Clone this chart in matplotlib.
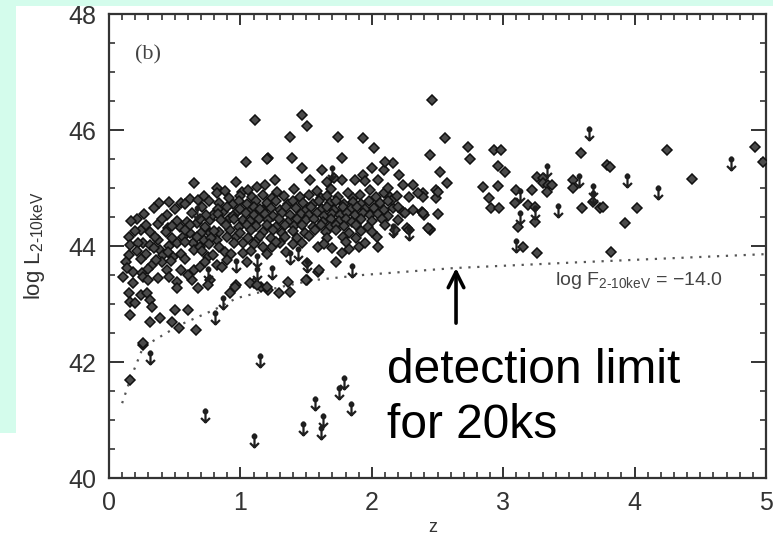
import matplotlib
matplotlib.use("Agg")
import matplotlib.pyplot as plt
from matplotlib.path import Path
from matplotlib.patches import Rectangle
import numpy as np

# ---------------- data ----------------
# detected sources (z, log L)
det_sparse = [
    (1.11, 46.17), (1.38, 45.88), (1.47, 46.26), (1.51, 46.07), (1.74, 45.88), (1.93, 45.86),
    (2.02, 45.69), (2.46, 46.52), (2.56, 45.86), (2.73, 45.71), (2.44, 45.57), (2.75, 45.50),
    (2.52, 45.28), (2.57, 45.09), (2.39, 44.91), (2.49, 44.96), (2.49, 44.83), (2.40, 44.53),
    (2.50, 44.56), (2.44, 44.28), (2.93, 45.66), (2.98, 45.66), (2.96, 45.38), (3.01, 45.28),
    (2.85, 45.02), (2.89, 44.83), (2.96, 45.03), (2.91, 44.66), (2.97, 44.66), (3.10, 44.96),
    (3.09, 44.74), (3.22, 44.96), (3.19, 44.71), (3.24, 44.67), (3.24, 44.41), (3.11, 44.33),
    (3.15, 43.98), (3.26, 43.88), (3.26, 45.19), (3.30, 45.17), (3.30, 45.09), (3.34, 45.05),
    (3.33, 44.93), (3.37, 45.05), (3.59, 45.60), (3.53, 45.14), (3.53, 45.00), (3.60, 44.66),
    (3.68, 44.76), (3.74, 44.66), (3.76, 44.67), (3.79, 45.40), (3.81, 45.36), (3.82, 43.90),
    (3.93, 44.40), (4.02, 44.66), (4.25, 45.66), (4.44, 45.16), (4.92, 45.71), (4.98, 45.45),
    (2.16, 45.43), (2.09, 45.31), (2.21, 45.22), (2.24, 45.05), (2.31, 45.05), (2.09, 44.91),
    (2.14, 44.84), (2.28, 44.84), (2.39, 44.84), (2.50, 44.93), (2.16, 44.66), (2.24, 44.59),
    (2.31, 44.62), (2.27, 44.31), (2.44, 44.29), (2.10, 45.45), (2.00, 45.34), (1.93, 45.22),
    (2.05, 45.14), (1.87, 45.14), (1.95, 45.12), (2.35, 44.91), (2.15, 44.79), (2.25, 44.57),
    (2.38, 44.59), (2.18, 44.28), (2.28, 44.28), (2.04, 44.16), (2.05, 43.98), (1.90, 43.98),
    (1.95, 44.05), (2.43, 44.31), (2.39, 44.57),
    (1.21, 45.52), (1.39, 45.52), (1.77, 45.52), (1.47, 45.34), (1.62, 45.31), (1.77, 45.14),
    (1.71, 45.17), (1.53, 45.14), (1.66, 45.10), (1.26, 45.14),
    (1.70, 43.97), (1.77, 43.88), (1.73, 43.72), (1.83, 43.95), (1.59, 43.98), (1.51, 43.71),
    (1.59, 43.55), (1.30, 44.05), (1.24, 43.98), (1.51, 43.41), (1.36, 43.38), (1.38, 43.21),
    (1.29, 43.19), (1.21, 43.24), (1.50, 43.41), (1.10, 43.36), (1.16, 43.30), (0.97, 43.33),
    (1.60, 43.59), (1.07, 43.36), (1.13, 43.33), (1.20, 43.29), (0.92, 43.19), (0.96, 43.29),
    (1.04, 45.45), (1.20, 45.50), (0.65, 45.09), (0.82, 45.00), (0.82, 44.91), (0.97, 45.10),
    (1.01, 44.93), (1.13, 45.02), (1.19, 45.05), (0.38, 44.74), (0.55, 44.74), (0.62, 44.81),
    (0.68, 44.79), (0.94, 44.72), (0.21, 44.47), (0.24, 44.28), (0.31, 44.24), (0.37, 44.38),
    (0.45, 44.31), (0.54, 44.33), (0.59, 44.41), (0.67, 44.40), (0.77, 44.45), (0.79, 44.53),
    (0.87, 44.59), (0.92, 44.48), (0.97, 44.57), (1.02, 44.45), (1.07, 44.62), (1.13, 44.53),
    (1.17, 44.62), (0.15, 44.16), (0.16, 44.02), (0.15, 43.84), (0.26, 44.05), (0.31, 44.02),
    (0.37, 44.10), (0.39, 43.93), (0.41, 43.84), (0.46, 44.00), (0.52, 44.05), (0.49, 43.81),
    (0.56, 44.16), (0.62, 44.22), (0.64, 44.05), (0.65, 43.93), (0.69, 43.98), (0.72, 44.10),
    (0.77, 44.22), (0.82, 44.10), (0.84, 43.98), (0.88, 43.90), (0.75, 43.81), (0.79, 43.84),
    (0.84, 44.24), (0.92, 44.28), (0.97, 44.16), (1.02, 44.05), (1.13, 44.10), (1.17, 43.98),
    (1.02, 43.88), (0.11, 43.47), (0.18, 43.55), (0.18, 43.36), (0.25, 43.53), (0.26, 43.47),
    (0.30, 43.41), (0.33, 43.67), (0.40, 43.72), (0.44, 43.59), (0.46, 43.47), (0.52, 43.38),
    (0.52, 43.28), (0.63, 43.41), (0.65, 43.59), (0.69, 43.64), (0.77, 43.41), (0.75, 43.33),
    (0.68, 43.28), (0.82, 43.67), (0.86, 43.64), (0.15, 43.19), (0.16, 43.03), (0.20, 43.02),
    (0.24, 43.16), (0.29, 43.19), (0.31, 43.07), (0.33, 42.95), (0.16, 42.81), (0.31, 42.69),
    (0.39, 42.76), (0.48, 42.69), (0.50, 42.90), (0.60, 42.90), (0.53, 42.59), (0.66, 42.55),
    (0.26, 42.29), (0.16, 41.69), (0.26, 42.33),
]
det_core = [
    (0.88, 44.95), (1.06, 44.97), (1.28, 44.93), (1.41, 44.98), (1.58, 44.94), (1.69, 44.99),
    (1.82, 44.92), (1.99, 44.96), (2.12, 45.00),
    (0.72, 44.86), (0.91, 44.83), (1.00, 44.87), (1.09, 44.84), (1.17, 44.88), (1.24, 44.82),
    (1.33, 44.86), (1.45, 44.84), (1.52, 44.88), (1.61, 44.83), (1.66, 44.87), (1.74, 44.85),
    (1.86, 44.83), (1.91, 44.88), (2.03, 44.84), (2.19, 44.86),
    (0.46, 44.76), (0.58, 44.73), (0.76, 44.77), (0.84, 44.74), (0.99, 44.78), (1.05, 44.73),
    (1.12, 44.77), (1.20, 44.74), (1.27, 44.78), (1.36, 44.73), (1.40, 44.77), (1.48, 44.75),
    (1.55, 44.72), (1.60, 44.78), (1.68, 44.74), (1.73, 44.77), (1.79, 44.73), (1.86, 44.76),
    (1.92, 44.72), (1.98, 44.77), (2.06, 44.74), (2.12, 44.78),
    (0.34, 44.66), (0.50, 44.63), (0.71, 44.67), (0.83, 44.64), (0.90, 44.68), (1.00, 44.64),
    (1.10, 44.67), (1.15, 44.63), (1.23, 44.66), (1.30, 44.62), (1.35, 44.68), (1.42, 44.65),
    (1.50, 44.62), (1.54, 44.68), (1.62, 44.64), (1.66, 44.67), (1.71, 44.62), (1.78, 44.67),
    (1.84, 44.64), (1.89, 44.68), (1.95, 44.63), (2.02, 44.66), (2.09, 44.62), (2.20, 44.67),
    (0.27, 44.56), (0.44, 44.54), (0.63, 44.57), (0.74, 44.53), (0.83, 44.56), (0.94, 44.52),
    (1.04, 44.57), (1.10, 44.54), (1.19, 44.56), (1.25, 44.52), (1.32, 44.57), (1.38, 44.53),
    (1.46, 44.56), (1.52, 44.53), (1.58, 44.57), (1.64, 44.52), (1.70, 44.56), (1.76, 44.53),
    (1.81, 44.57), (1.87, 44.54), (1.93, 44.57), (1.99, 44.53), (2.05, 44.56), (2.12, 44.52),
    (0.17, 44.43), (0.40, 44.46), (0.52, 44.43), (0.69, 44.47), (0.85, 44.44), (0.95, 44.46),
    (1.07, 44.43), (1.14, 44.47), (1.21, 44.44), (1.29, 44.46), (1.36, 44.42), (1.43, 44.47),
    (1.50, 44.44), (1.56, 44.47), (1.63, 44.42), (1.69, 44.46), (1.75, 44.43), (1.80, 44.47),
    (1.85, 44.42), (1.92, 44.46), (2.00, 44.43), (2.08, 44.46), (2.20, 44.44),
    (0.28, 44.36), (0.48, 44.34), (0.62, 44.37), (0.73, 44.33), (0.89, 44.36), (0.99, 44.33),
    (1.05, 44.37), (1.12, 44.34), (1.20, 44.36), (1.27, 44.32), (1.34, 44.37), (1.41, 44.34),
    (1.47, 44.37), (1.55, 44.33), (1.61, 44.36), (1.68, 44.33), (1.73, 44.37), (1.79, 44.34),
    (1.88, 44.36), (1.97, 44.33), (2.10, 44.36),
    (0.20, 44.26), (0.43, 44.24), (0.58, 44.27), (0.70, 44.23), (0.80, 44.26), (1.00, 44.23),
    (1.08, 44.27), (1.17, 44.24), (1.25, 44.27), (1.32, 44.23), (1.40, 44.26), (1.49, 44.23),
    (1.57, 44.27), (1.65, 44.24), (1.73, 44.27), (1.83, 44.23), (1.92, 44.26), (2.00, 44.24),
    (0.35, 44.16), (0.48, 44.13), (0.67, 44.16), (0.78, 44.13), (0.90, 44.16), (1.06, 44.14),
    (1.15, 44.17), (1.23, 44.13), (1.34, 44.16), (1.43, 44.13), (1.52, 44.17), (1.66, 44.14),
    (1.78, 44.16), (1.88, 44.13),
    (0.22, 44.06), (0.34, 43.96), (0.58, 44.07), (0.76, 44.03), (0.95, 44.06), (1.10, 44.03),
    (1.27, 44.07), (1.40, 44.03), (1.47, 44.06), (1.64, 44.04), (1.80, 44.07),
    (0.21, 43.92), (0.28, 43.86), (0.45, 43.90), (0.55, 43.86), (0.71, 43.92), (0.93, 43.86),
    (1.08, 43.92), (1.20, 43.86), (1.35, 43.90),
    (0.13, 43.72), (0.24, 43.78), (0.36, 43.76), (0.47, 43.74), (0.58, 43.77), (0.73, 43.72),
    (0.90, 43.76), (1.05, 43.73),
    (0.14, 43.62), (0.30, 43.60), (0.55, 43.58), (0.60, 43.50), (0.37, 43.45),
]
# upper limits (z, log L)
upper_limits = [
    (0.73, 41.09), (1.15, 42.03), (1.10, 40.66), (1.48, 40.86), (1.57, 41.29), (1.61, 40.79),
    (1.63, 41.00), (1.75, 41.48), (1.79, 41.66), (1.84, 41.21), (0.31, 42.09), (0.67, 44.59),
    (0.97, 43.67), (1.13, 43.53), (0.75, 43.53), (0.87, 43.03), (0.81, 42.78), (1.13, 43.76),
    (1.24, 43.55), (1.38, 43.81), (1.51, 43.67), (1.44, 43.88), (1.85, 43.59), (1.70, 45.28),
    (2.16, 44.28), (2.28, 44.22), (3.13, 44.50), (3.10, 44.02), (3.24, 44.59), (3.33, 45.31),
    (3.42, 44.62), (3.65, 45.95), (3.58, 45.14), (3.68, 44.96), (3.68, 44.84), (3.94, 45.14),
    (4.18, 44.93), (4.73, 45.43), (3.13, 44.88),
]
# detection limit curve, log F(2-10keV) = -14.0
limit_z = [0.10, 0.16, 0.26, 0.54, 0.80, 0.97, 1.30, 1.55, 1.93, 2.63, 3.58, 5.00]
limit_L = [41.29, 41.69, 42.26, 42.64, 42.90, 43.10, 43.29, 43.41, 43.50, 43.62, 43.72, 43.86]

x_ticks = [0, 1, 2, 3, 4, 5]
y_ticks = [40, 42, 44, 46, 48]

# ---------------- figure ----------------
W, H = 773, 537
fig = plt.figure(figsize=(W / 100, H / 100), dpi=100)
fig.patch.set_facecolor("white")
mint = "#d4fcec"
fig.patches.append(Rectangle((0, 1 - 6 / H), 1, 6 / H, transform=fig.transFigure,
                             facecolor=mint, edgecolor="none", zorder=0))
fig.patches.append(Rectangle((0, 1 - 433 / H), 16 / W, 433 / H, transform=fig.transFigure,
                             facecolor=mint, edgecolor="none", zorder=0))

ax = fig.add_axes([109 / W, (H - 478) / H, (766 - 109) / W, (478 - 14) / H])
ax.set_xlim(0, 5)
ax.set_ylim(40, 48)

axis_col = "#333333"
for s in ax.spines.values():
    s.set_linewidth(1.6)
    s.set_color(axis_col)

ax.set_xticks(x_ticks)
ax.set_yticks(y_ticks)
ax.set_xticks(np.arange(0, 5.001, 0.1), minor=True)
ax.set_yticks(np.arange(40, 48.001, 0.5), minor=True)
ax.tick_params(which="both", direction="in", top=True, right=True, color=axis_col)
ax.tick_params(which="major", axis="x", length=8, width=1.4)
ax.tick_params(which="major", axis="y", length=11, width=1.4)
ax.tick_params(which="minor", length=4.5, width=1.2)
ax.tick_params(which="major", labelsize=18, labelcolor="#333333", pad=9)
for lab in ax.get_xticklabels() + ax.get_yticklabels():
    lab.set_fontfamily("Liberation Sans")

# detections
dz = [p[0] for p in det_sparse + det_core]
dL = [p[1] for p in det_sparse + det_core]
ax.plot(dz, dL, linestyle="none", marker="D", markersize=4.7,
        markerfacecolor="#4a4a4a", markeredgecolor="#111111", markeredgewidth=1.1, zorder=3)

# upper limits as downward arrows
arrow_path = Path([(0, 0.5), (0, -0.5), (-0.32, -0.18), (0, -0.5), (0.32, -0.18)],
                  [Path.MOVETO, Path.LINETO, Path.MOVETO, Path.LINETO, Path.LINETO])
uz = [p[0] for p in upper_limits]
uL = [p[1] for p in upper_limits]
ax.plot(uz, uL, linestyle="none", marker=arrow_path, markersize=10,
        markerfacecolor="none", markeredgecolor="#1e1e1e", markeredgewidth=1.6, zorder=4)
ax.plot(uz, [v + 0.07 for v in uL], linestyle="none", marker="o", markersize=3.2,
        markerfacecolor="#1e1e1e", markeredgecolor="#1e1e1e", zorder=4)

# detection-limit curve
ax.plot(limit_z, limit_L, linestyle=(0, (1, 3)), color="#555555", linewidth=1.6, zorder=2)

# labels
ax.set_xlabel("z", fontsize=13, color="#333333", fontfamily="Liberation Sans")
ax.xaxis.set_label_coords(0.493, -0.088)
ax.set_ylabel("log L$_{\\mathregular{2\u201010keV}}$", fontsize=16, color="#333333",
              fontfamily="Liberation Sans")
ax.yaxis.set_label_coords(-0.095, 0.5)

ax.text(0.20, 47.29, "(b)", fontsize=16, color="#444444", fontfamily="Liberation Serif",
        ha="left", va="center")
ax.text(3.394, 43.41, "log F$_{\\mathregular{2\u201010keV}}$ = \u221214.0", fontsize=14,
        color="#444444", fontfamily="Liberation Sans", ha="left", va="center")

# annotation
ax.annotate("", xy=(2.641, 43.62), xytext=(2.641, 42.67),
            arrowprops=dict(arrowstyle="->", lw=2.6, color="black", mutation_scale=28,
                            shrinkA=0, shrinkB=0), zorder=6)
ax.text(2.116, 41.64, "detection limit", fontsize=34.5, color="black",
        fontfamily="Liberation Sans", ha="left", va="baseline", zorder=6)
ax.text(2.116, 40.69, "for 20ks", fontsize=34.5, color="black",
        fontfamily="Liberation Sans", ha="left", va="baseline", zorder=6)

fig.savefig("out.png", dpi=100, facecolor=fig.get_facecolor())
